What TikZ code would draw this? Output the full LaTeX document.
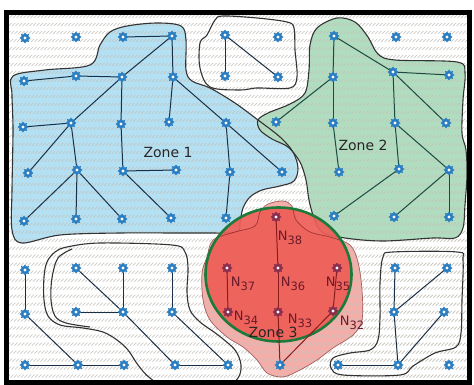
\documentclass[tikz,border=0pt]{standalone}
\usepackage{fontspec}
\setmainfont{DejaVu Sans}
\usetikzlibrary{shapes.geometric}
\definecolor{zblue}{HTML}{B4E0F3}
\definecolor{zgreen}{HTML}{B0DDBF}
\definecolor{zpink}{HTML}{F4AEA9}
\definecolor{zred}{HTML}{EE5E57}
\definecolor{cgreen}{HTML}{1E7A3A}
\definecolor{sblue}{HTML}{2A7DC0}
\definecolor{sred}{HTML}{8C2D4D}
\definecolor{enavy}{HTML}{1A3048}
\definecolor{egreen}{HTML}{1C4A40}
\definecolor{ered}{HTML}{8A1C1C}
\definecolor{hatchc}{HTML}{C6C2BA}
\definecolor{ncol}{HTML}{6A1A28}
\pgfdeclarelayer{bgL}
\pgfdeclarelayer{edgeL}
\pgfsetlayers{bgL,edgeL,main}
\newcommand{\Nlab}[1]{N\raisebox{-3.5pt}{\fontsize{11.5}{11.5}\selectfont #1}}
\begin{document}
\begin{tikzpicture}[x=1pt,y=-1pt,
  sens/.style={star, star points=8, star point ratio=1.45, fill=sblue, draw=none,
    minimum size=11pt, inner sep=0pt,
    path picture={\fill[white] (path picture bounding box.center) circle (1.6pt);}},
  sensR/.style={sens, fill=sred},
  edgeA/.style={draw=enavy, line width=1pt},
  edgeB/.style={draw=egreen, line width=1pt},
  edgeC/.style={draw=ered, line width=1pt},
  contour/.style={draw=black!80, line width=1.1pt},
  zlab/.style={font=\fontsize{14}{14}\selectfont, text=black!85, inner sep=0pt},
  nlab/.style={font=\fontsize{13}{13}\selectfont, text=ncol, inner sep=0pt}]
\useasboundingbox (0,0) rectangle (474,385);

% sensor nodes
\foreach \n/\x/\y in {a1/25/38, a2/76/37, a3/123/37, a4/172/36, a5/225/35, a6/278/37, a7/334/36, a8/396/37, a9/447/37,
  b1/24/81, b2/76/76, b3/122/77, b4/173/77, b5/225/76, b6/278/77, b7/333/77, b8/393/72, b9/449/75,
  c1/23/127, c2/71/123, c3/121/124, c4/169/122, c5/226/123, c6/276/122, c7/333/123, c8/395/123, c9/446/123,
  d1/28/173, d2/77/170, d3/123/171, d4/176/170, d5/230/172, d6/282/172, d7/339/172, d8/399/169, d9/449/170,
  e1/24/221, e2/76/219, e3/122/219, e4/171/218, e5/226/218, e7/334/216, e8/394/217, e9/449/217,
  f1/25/270, f2/76/268, f3/123/268, f4/172/268, f8/395/268, f9/447/268,
  g1/25/314, g2/76/312, g3/123/312, g4/172/312, g8/394/312, g9/444/312,
  h1/25/365, h2/78/365, h3/124/365, h4/175/365, h5/228/365, h6/280/365, h7/338/365, h8/398/365, h9/449/365}
  \node[sens] (\n) at (\x,\y) {};
\foreach \n/\x/\y in {e6/276/217, f5/227/268, f6/278/268, f7/337/268, g5/228/312, g6/278/312, g7/333/311}
  \node[sensR] (\n) at (\x,\y) {};

% labels
\node[zlab] (z1) at (168,152) {Zone 1};
\node[zlab] (z2) at (363,145) {Zone 2};
\node[zlab] (z3) at (273,332) {Zone 3};
\node[nlab] (l38) at (290,238) {\Nlab{38}};
\node[nlab] (l37) at (243,284) {\Nlab{37}};
\node[nlab] (l36) at (293,284) {\Nlab{36}};
\node[nlab] (l35) at (338,284) {\Nlab{35}};
\node[nlab] (l34) at (246,318) {\Nlab{34}};
\node[nlab] (l33) at (300,321) {\Nlab{33}};
\node[nlab] (l32) at (352,323) {\Nlab{32}};

\begin{pgfonlayer}{bgL}
\fill[white] (0,0) rectangle (474,385);
\begin{scope}
\clip (9,15) rectangle (467,380);
% zone fills
\fill[zblue] plot[smooth cycle, tension=0.55] coordinates {(13,76) (45,70) (90,65) (100,45) (110,32) (127,26) (157,23) (181,26) (186,40) (186,70) (192,81) (210,88) (235,103) (258,120) (280,137) (293,152) (298,168) (294,181) (280,186) (262,190) (250,197) (243,208) (240,222) (236,232) (200,233) (120,233) (60,235) (22,243) (12,230) (12,190) (13,130) (12,95)};
\fill[zgreen] plot[smooth cycle, tension=0.55] coordinates {(317,28) (337,18) (355,22) (368,37) (378,54) (395,60) (457,62) (465,73) (463,100) (462,133) (466,150) (467,175) (465,205) (463,228) (455,238) (433,238) (383,241) (345,238) (322,232) (314,218) (309,200) (306,180) (300,162) (288,147) (272,139) (260,130) (258,120) (268,113) (290,104) (305,93) (309,70) (310,45)};
\fill[zpink] plot[smooth cycle, tension=0.55] coordinates {(207,257) (213,240) (235,232) (255,226) (260,212) (268,204) (283,201) (292,206) (296,220) (310,232) (330,237) (350,245) (358,262) (362,290) (362,320) (353,335) (333,348) (317,360) (300,370) (283,377) (267,373) (257,360) (243,347) (227,337) (210,320) (203,300) (202,273)};
% hatching
\foreach \x in {9,12.5,...,840}
  \draw[hatchc, line width=0.7pt, dash pattern=on 4.2pt off 7.1pt] (\x,15) -- ++(-370,370);
% contours
\draw[contour] plot[smooth cycle, tension=0.55] coordinates {(13,76) (45,70) (90,65) (100,45) (110,32) (127,26) (157,23) (181,26) (186,40) (186,70) (192,81) (210,88) (235,103) (258,120) (280,137) (293,152) (298,168) (294,181) (280,186) (262,190) (250,197) (243,208) (240,222) (236,232) (200,233) (120,233) (60,235) (22,243) (12,230) (12,190) (13,130) (12,95)};
\draw[contour] plot[smooth cycle, tension=0.55] coordinates {(317,28) (337,18) (355,22) (368,37) (378,54) (395,60) (457,62) (465,73) (463,100) (462,133) (466,150) (467,175) (465,205) (463,228) (455,238) (433,238) (383,241) (345,238) (322,232) (314,218) (309,200) (306,180) (300,162) (288,147) (272,139) (260,130) (258,120) (268,113) (290,104) (305,93) (309,70) (310,45)};
\draw[contour] plot[smooth cycle, tension=0.55] coordinates {(215,20) (223,16) (257,18) (287,22) (294,28) (295,50) (297,77) (290,88) (257,88) (240,90) (210,87) (200,68) (200,43) (207,35)};
\draw[contour] plot[smooth cycle, tension=0.55] coordinates {(67,247) (100,243) (172,245) (185,252) (188,268) (187,292) (190,310) (200,322) (218,335) (235,350) (241,365) (238,378) (225,386) (170,388) (150,378) (138,365) (128,350) (117,340) (103,332) (83,328) (60,325) (48,316) (44,300) (44,277) (47,262) (55,252)};
\draw[contour] plot[smooth, tension=0.55] coordinates {(72,249) (58,258) (52,278) (51,300) (55,316) (66,323) (90,327)};
\draw[contour] plot[smooth cycle, tension=0.55] coordinates {(383,257) (393,252) (457,252) (463,260) (462,300) (461,333) (456,347) (435,353) (413,366) (400,375) (343,375) (331,368) (333,358) (350,353) (370,350) (378,340) (380,317) (380,283)};
% red circle
\fill[zred, opacity=0.92] (278.5,274.5) ellipse [x radius=73, y radius=67];
\draw[draw=ered!80!black, line width=0.7pt, opacity=0.6] plot[smooth cycle, tension=0.55] coordinates {(207,257) (213,240) (235,232) (255,226) (260,212) (268,204) (283,201) (292,206) (296,220) (310,232) (330,237) (350,245) (358,262) (362,290) (362,320) (353,335) (333,348) (317,360) (300,370) (283,377) (267,373) (257,360) (243,347) (227,337) (210,320) (203,300) (202,273)};
\draw[cgreen, line width=2.6pt] (278.5,274.5) ellipse [x radius=73, y radius=67];
\end{scope}
\draw[black, line width=5pt] (6.5,12.5) rectangle (469.5,382);
\end{pgfonlayer}

\begin{pgfonlayer}{edgeL}
\foreach \u/\v in {a3/a4, a4/b4, a4/b3, b3/c2, c2/d1, b1/b2, b2/b3, b3/c3, c3/d3, d3/d4, b4/c4, b4/c5, c5/d6, c5/d5, d5/e5, c1/c2, c2/d2, d2/e2, d2/e1, d2/e3, d3/e4, a5/b5, a5/b6, f1/g1, g1/h2, h1/h2, h2/h3, f2/g3, g3/h4, g2/g3, f3/g3, f4/g4, g4/h5, h4/h5, f8/g8, g8/h8, g8/f9, h7/h8, h8/g9}
  \draw[edgeA] (\u.center) -- (\v.center);
\foreach \u/\v in {a7/b7, b7/c7, c7/d7, a7/b8, b8/b9, b8/c9, b8/c8, c8/d8, b7/c6, c8/d9, d9/e9, d8/e7, d9/e8}
  \draw[edgeB] (\u.center) -- (\v.center);
\foreach \u/\v in {e6/f6, f6/g6, g6/h6, f5/g5, f7/g7, g7/h6}
  \draw[edgeC] (\u.center) -- (\v.center);
\end{pgfonlayer}
\end{tikzpicture}
\end{document}
